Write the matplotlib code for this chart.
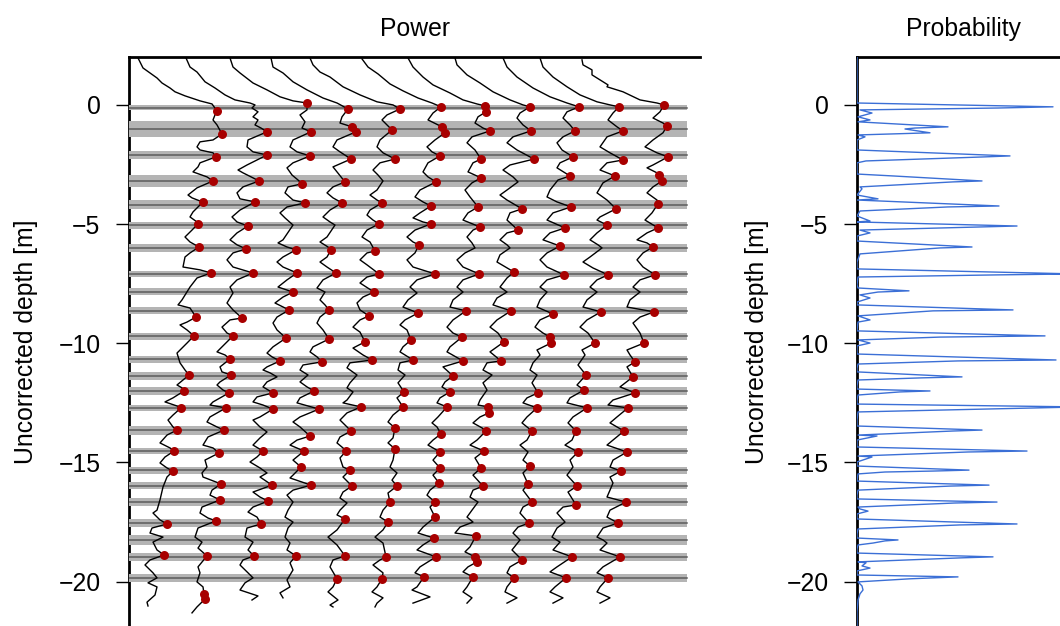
import matplotlib
matplotlib.use("Agg")
import matplotlib.pyplot as plt
import numpy as np

plt.rcParams['font.family'] = ['Liberation Sans', 'DejaVu Sans']

# layer picks (gray bands): centre depth [m] and half width [m]
band_depth = [-0.11, -1.01, -2.11, -3.19, -4.18, -5.05, -5.99, -7.10, -7.83, -8.63, -9.71, -10.67,
              -11.37, -12.00, -12.70, -13.65, -14.52, -15.33, -15.97, -16.65, -17.55, -18.25, -18.95, -19.83]
band_half = [0.12, 0.33, 0.17, 0.25, 0.19, 0.14, 0.17, 0.14, 0.14, 0.16, 0.15, 0.14,
             0.16, 0.15, 0.13, 0.19, 0.14, 0.16, 0.13, 0.16, 0.17, 0.22, 0.17, 0.17]

# power traces (offset), depth in m; picks = indices of red dots
t1_depth = [1.97, 1.55, 1.34, 1.13, 0.92, 0.71, 0.55, 0.38, 0.17, 0.04,
            -0.25, -0.42, -0.63, -0.84, -1.22, -1.47, -1.55, -1.76, -1.89, -2.01,
            -2.18, -2.43, -2.60, -2.81, -3.02, -3.19, -3.48, -3.78, -3.90, -4.03,
            -4.07, -4.49, -4.70, -4.91, -4.99, -5.25, -5.54, -5.75, -5.96, -6.21,
            -6.38, -6.80, -6.92, -7.05, -7.26, -7.64, -8.18, -8.39, -8.52, -8.90,
            -9.11, -9.23, -9.44, -9.69, -9.99, -10.41, -10.82, -11.12, -11.33, -11.54,
            -11.75, -11.87, -12.00, -12.29, -12.46, -12.63, -12.71, -13.01, -13.22, -13.51,
            -13.64, -13.85, -14.18, -14.39, -14.52, -14.77, -15.02, -15.23, -15.36, -15.61,
            -16.03, -16.57, -17.00, -17.12, -17.41, -17.58, -17.75, -17.96, -18.13, -18.34,
            -18.67, -18.88, -19.09, -19.30, -19.63, -19.84, -20.05, -20.22, -20.56, -20.86, -21.02]
t1_power = [9, 14, 21, 28, 33, 41, 46, 56, 71, 83,
            88, 86, 84, 88, 93, 84, 71, 68, 71, 84,
            87, 71, 69, 64, 78, 84, 68, 59, 63, 71,
            74, 64, 61, 68, 69, 63, 56, 61, 70, 61,
            56, 54, 71, 82, 68, 61, 53, 49, 61, 67,
            58, 51, 58, 65, 58, 48, 51, 56, 60, 54,
            48, 53, 55, 44, 36, 48, 52, 44, 39, 44,
            48, 38, 31, 41, 45, 36, 31, 38, 44, 38,
            34, 31, 28, 24, 31, 38, 23, 21, 34, 24,
            28, 35, 21, 16, 24, 28, 19, 28, 26, 18, 19]
t1_picks = [10, 14, 20, 25, 30, 34, 38, 43, 49, 53, 58, 62, 66, 70, 74, 78, 85, 91]

t2_depth = [1.97, 1.59, 1.38, 0.97, 0.71, 0.42, 0.21, 0.08, 0.00, -0.13,
            -0.29, -0.50, -0.63, -0.84, -0.97, -1.13, -1.47, -1.76, -1.97, -2.10,
            -2.52, -2.73, -2.85, -3.06, -3.19, -3.44, -3.69, -3.94, -4.07, -4.41,
            -4.70, -4.91, -5.08, -5.37, -5.66, -5.87, -6.04, -6.21, -6.50, -6.80,
            -7.05, -7.34, -7.64, -7.89, -8.31, -8.60, -8.94, -9.02, -9.32, -9.57,
            -9.69, -10.15, -10.36, -10.49, -10.66, -10.99, -11.20, -11.33, -11.62, -11.75,
            -11.96, -12.08, -12.46, -12.59, -12.71, -13.09, -13.30, -13.51, -13.64, -13.93,
            -14.27, -14.39, -14.60, -14.90, -15.19, -15.44, -15.61, -15.90, -16.16, -16.37,
            -16.57, -16.87, -17.12, -17.33, -17.45, -17.75, -18.13, -18.34, -18.59, -18.92,
            -19.38, -19.63, -20.01, -20.22, -20.51, -20.73, -21.06, -21.31]
t2_power = [57, 61, 68, 76, 86, 96, 106, 121, 126, 123,
            129, 124, 129, 126, 132, 138, 119, 118, 124, 138,
            118, 109, 114, 124, 130, 114, 108, 111, 126, 111,
            103, 108, 119, 108, 101, 108, 117, 104, 98, 104,
            124, 108, 101, 104, 98, 104, 113, 101, 93, 98,
            104, 93, 88, 96, 101, 91, 93, 102, 91, 88,
            94, 100, 84, 81, 97, 81, 78, 88, 95, 79,
            74, 84, 90, 76, 78, 73, 74, 92, 83, 81,
            91, 73, 71, 79, 87, 69, 66, 73, 69, 78,
            69, 71, 68, 74, 75, 76, 68, 63]
t2_picks = [15, 19, 24, 28, 32, 36, 40, 46, 50, 54, 57, 61, 64, 68, 72, 77, 80, 84, 89, 94, 95]

t3_depth = [1.97, 1.59, 1.34, 0.92, 0.63, 0.34, 0.17, 0.08, -0.21, -0.42,
            -0.71, -0.97, -1.13, -1.47, -1.76, -1.97, -2.14, -2.43, -2.64, -2.94,
            -3.15, -3.31, -3.44, -3.69, -3.99, -4.11, -4.28, -4.53, -4.74, -5.04,
            -5.66, -5.79, -5.96, -6.08, -6.38, -6.59, -6.80, -7.05, -7.34, -7.64,
            -7.85, -8.06, -8.31, -8.60, -8.90, -9.15, -9.44, -9.78, -10.15, -10.41,
            -10.57, -10.74, -10.99, -11.12, -11.24, -11.41, -11.62, -11.83, -12.08, -12.25,
            -12.46, -12.59, -12.76, -13.09, -13.22, -13.51, -13.72, -13.97, -14.27, -14.52,
            -14.77, -14.98, -15.23, -15.44, -15.61, -15.95, -16.24, -16.45, -16.62, -16.87,
            -17.08, -17.29, -17.58, -17.75, -18.13, -18.34, -18.67, -18.92, -19.09, -19.30,
            -19.63, -19.84, -20.05, -20.35, -20.60, -20.77]
t3_power = [101, 104, 111, 124, 138, 151, 164, 178, 178, 171,
            176, 173, 182, 164, 161, 168, 181, 164, 158, 163,
            169, 173, 159, 156, 164, 176, 158, 151, 156, 164,
            154, 149, 158, 167, 154, 148, 154, 168, 158, 149,
            164, 154, 146, 160, 148, 144, 148, 157, 144, 138,
            143, 151, 138, 134, 141, 148, 138, 134, 144, 128,
            124, 134, 144, 131, 124, 131, 138, 131, 124, 134,
            128, 121, 131, 138, 131, 143, 124, 131, 139, 124,
            119, 128, 132, 118, 116, 124, 119, 125, 114, 111,
            119, 124, 116, 111, 129, 123]
t3_picks = [7, 12, 16, 21, 25, 33, 37, 40, 43, 47, 51, 58, 62, 69, 75, 78, 82, 87]

t4_depth = [1.97, 1.59, 1.34, 0.97, 0.63, 0.29, 0.08, -0.17, -0.50, -0.76,
            -0.92, -1.13, -1.47, -1.76, -1.97, -2.27, -2.60, -2.81, -3.23, -3.44,
            -3.69, -3.90, -4.11, -4.41, -4.70, -4.91, -5.04, -5.54, -5.75, -5.96,
            -6.08, -6.38, -6.59, -6.80, -7.05, -7.34, -7.68, -7.85, -8.18, -8.39,
            -8.60, -8.90, -9.15, -9.44, -9.82, -10.15, -10.36, -10.57, -10.78, -10.91,
            -11.12, -11.33, -11.62, -11.83, -12.00, -12.29, -12.50, -12.76, -13.09, -13.30,
            -13.51, -13.89, -14.06, -14.27, -14.52, -14.90, -15.19, -15.53, -15.65, -15.95,
            -16.16, -16.37, -16.66, -17.00, -17.29, -17.50, -17.75, -18.13, -18.38, -18.67,
            -18.92, -19.21, -19.51, -19.93, -20.22, -20.47, -20.68]
t4_power = [142, 144, 154, 164, 178, 194, 208, 219, 213, 211,
            223, 227, 208, 204, 211, 222, 204, 208, 216, 204,
            198, 204, 213, 201, 194, 201, 206, 198, 191, 199,
            202, 198, 191, 198, 207, 194, 188, 196, 191, 196,
            200, 191, 188, 194, 200, 184, 181, 188, 193, 174,
            171, 179, 171, 178, 185, 171, 168, 190, 171, 164,
            171, 181, 168, 161, 175, 164, 172, 164, 161, 182,
            164, 158, 164, 159, 156, 164, 159, 156, 161, 158,
            167, 161, 164, 158, 161, 151, 154]
t4_picks = [7, 10, 11, 15, 18, 22, 30, 34, 40, 44, 48, 54, 57, 61, 64, 66, 69, 80]

t5_depth = [1.97, 1.68, 1.38, 1.17, 0.76, 0.42, 0.13, 0.00, -0.17, -0.42,
            -0.63, -1.05, -1.47, -1.76, -2.01, -2.27, -2.43, -2.73, -2.94, -3.19,
            -3.57, -3.78, -3.99, -4.11, -4.41, -4.62, -4.83, -4.99, -5.25, -5.54,
            -5.75, -6.13, -6.21, -6.50, -6.71, -7.09, -7.22, -7.47, -7.85, -8.06,
            -8.31, -8.60, -8.85, -9.02, -9.32, -9.53, -9.94, -10.20, -10.49, -10.70,
            -10.82, -11.03, -11.33, -11.66, -11.87, -12.04, -12.38, -12.50, -12.67, -12.92,
            -13.22, -13.51, -13.68, -13.93, -14.18, -14.39, -14.52, -14.81, -15.19, -15.32,
            -15.61, -15.99, -16.24, -16.49, -16.70, -17.00, -17.20, -17.37, -17.83, -18.13,
            -18.46, -18.92, -19.09, -19.38, -19.88, -20.22, -20.43, -20.77, -20.98, -21.06]
t5_power = [181, 184, 191, 201, 214, 231, 248, 264, 271, 258,
            253, 263, 251, 248, 254, 266, 251, 244, 249, 254,
            248, 241, 248, 253, 241, 238, 244, 250, 238, 233,
            241, 246, 238, 231, 238, 250, 238, 231, 245, 234,
            228, 231, 240, 231, 224, 231, 236, 224, 234, 243,
            221, 218, 228, 221, 218, 224, 218, 214, 232, 218,
            211, 218, 222, 211, 208, 214, 217, 211, 214, 221,
            214, 223, 214, 211, 218, 211, 208, 216, 208, 199,
            208, 216, 204, 201, 208, 204, 199, 209, 201, 204]
t5_picks = [8, 11, 15, 23, 27, 31, 35, 38, 42, 46, 49, 58, 62, 66, 69, 71, 77, 81, 84]

t6_depth = [1.93, 1.59, 1.30, 0.88, 0.59, 0.29, 0.08, -0.08, -0.34, -0.63,
            -0.92, -1.17, -1.47, -1.76, -1.97, -2.14, -2.43, -2.81, -3.02, -3.23,
            -3.57, -3.86, -4.07, -4.24, -4.53, -4.74, -4.91, -4.99, -5.25, -5.54,
            -5.75, -5.87, -6.21, -6.50, -6.80, -7.09, -7.34, -7.64, -7.89, -8.18,
            -8.48, -8.73, -9.02, -9.23, -9.44, -9.86, -10.15, -10.36, -10.70, -10.82,
            -11.12, -11.33, -11.66, -12.04, -12.29, -12.67, -13.01, -13.30, -13.55, -13.97,
            -14.18, -14.43, -14.90, -15.19, -15.44, -15.74, -15.99, -16.28, -16.66, -17.00,
            -17.29, -17.50, -17.83, -18.13, -18.38, -18.96, -19.09, -19.30, -19.63, -19.88,
            -20.22, -20.43, -20.68, -20.90, -21.06]
t6_power = [233, 239, 249, 261, 274, 289, 303, 312, 304, 299,
            313, 316, 306, 298, 303, 311, 299, 294, 299, 307,
            291, 286, 294, 302, 291, 284, 294, 302, 286, 278,
            284, 290, 286, 278, 284, 306, 288, 281, 288, 279,
            274, 289, 276, 271, 278, 282, 274, 271, 284, 271,
            269, 276, 269, 275, 268, 274, 264, 259, 266, 264,
            259, 266, 264, 261, 268, 263, 268, 259, 261, 254,
            251, 259, 254, 246, 254, 257, 251, 244, 254, 253,
            248, 243, 254, 248, 246]
t6_picks = [7, 10, 11, 15, 19, 23, 27, 31, 35, 41, 45, 48, 53, 55, 58, 61, 66, 68, 71, 75, 79]

t7_depth = [1.97, 1.59, 1.17, 0.84, 0.50, 0.21, 0.04, -0.04, -0.29, -0.50,
            -0.76, -0.97, -1.09, -1.34, -1.59, -1.89, -2.27, -2.43, -2.81, -3.06,
            -3.27, -3.57, -3.86, -4.28, -4.53, -4.83, -5.12, -5.25, -5.54, -5.79,
            -6.00, -6.21, -6.50, -6.80, -7.09, -7.34, -7.64, -7.85, -8.18, -8.48,
            -8.64, -9.02, -9.32, -9.57, -9.74, -10.15, -10.36, -10.74, -10.99, -11.37,
            -11.62, -11.83, -12.04, -12.29, -12.50, -12.67, -13.09, -13.34, -13.51, -13.80,
            -14.06, -14.27, -14.56, -14.90, -15.23, -15.53, -15.86, -16.16, -16.37, -16.66,
            -16.87, -17.29, -17.71, -17.96, -18.17, -18.46, -18.67, -18.96, -19.38, -19.63,
            -19.80, -20.22, -20.35, -20.64, -20.90]
t7_power = [279, 284, 294, 304, 321, 334, 348, 356, 357, 349,
            346, 354, 361, 343, 338, 346, 352, 344, 339, 352,
            343, 336, 341, 349, 339, 334, 351, 344, 338, 343,
            346, 336, 328, 334, 350, 334, 328, 334, 324, 321,
            337, 324, 318, 324, 333, 321, 318, 334, 314, 324,
            316, 313, 321, 311, 308, 318, 309, 303, 308, 312,
            304, 299, 311, 304, 311, 304, 310, 301, 298, 306,
            301, 306, 294, 289, 305, 294, 288, 307, 291, 286,
            295, 288, 283, 301, 284]
t7_picks = [7, 8, 12, 16, 19, 23, 26, 34, 40, 44, 47, 49, 52, 55, 59, 62, 64, 66, 69, 71, 74, 77, 80]

t8_depth = [1.97, 1.68, 1.26, 0.92, 0.55, 0.21, 0.00, -0.08, -0.34, -0.55,
            -0.84, -1.09, -1.34, -1.59, -1.89, -2.27, -2.52, -2.73, -3.02, -3.23,
            -3.57, -3.78, -3.99, -4.36, -4.53, -4.83, -5.25, -5.37, -5.66, -5.87,
            -6.00, -6.29, -6.59, -7.01, -7.26, -7.64, -7.85, -8.10, -8.39, -8.64,
            -9.02, -9.32, -9.57, -9.94, -10.36, -10.74, -10.82, -11.12, -11.33, -11.66,
            -11.96, -12.38, -12.59, -12.67, -12.92, -13.09, -13.34, -13.55, -13.68, -14.06,
            -14.27, -14.52, -14.81, -15.23, -15.53, -15.99, -16.16, -16.45, -16.66, -17.00,
            -17.29, -17.50, -17.71, -17.96, -18.08, -18.54, -18.75, -18.96, -19.17, -19.38,
            -19.59, -19.80, -20.22, -20.43, -20.68, -20.90]
t8_power = [326, 328, 338, 351, 364, 381, 394, 401, 391, 388,
            394, 402, 384, 378, 388, 405, 381, 374, 384, 389,
            378, 371, 378, 393, 381, 378, 389, 378, 371, 378,
            381, 371, 368, 385, 378, 371, 378, 368, 364, 382,
            368, 361, 369, 375, 361, 372, 358, 354, 363, 354,
            358, 351, 349, 359, 360, 351, 344, 353, 357, 348,
            341, 355, 346, 352, 344, 354, 344, 341, 349, 343,
            338, 344, 331, 326, 347, 341, 336, 346, 348, 339,
            334, 344, 338, 334, 343, 338]
t8_picks = [7, 11, 15, 23, 26, 33, 39, 43, 45, 53, 54, 58, 61, 63, 65, 74, 77, 78, 81]

t9_depth = [1.97, 1.59, 1.17, 0.71, 0.34, 0.08, -0.08, -0.29, -0.55, -0.84,
            -1.09, -1.34, -1.59, -1.89, -2.18, -2.43, -2.64, -2.98, -3.15, -3.57,
            -3.86, -4.07, -4.28, -4.53, -4.83, -5.16, -5.37, -5.66, -5.92, -6.21,
            -6.50, -6.80, -7.13, -7.34, -7.64, -7.85, -8.18, -8.48, -8.77, -9.02,
            -9.32, -9.57, -9.74, -9.99, -10.28, -10.49, -10.82, -11.12, -11.33, -11.66,
            -12.08, -12.29, -12.50, -12.71, -13.09, -13.34, -13.68, -14.06, -14.27, -14.56,
            -14.90, -15.15, -15.44, -15.90, -16.16, -16.66, -16.87, -17.12, -17.54, -17.71,
            -17.96, -18.25, -18.67, -19.09, -19.38, -19.63, -19.84, -20.22, -20.43, -20.68,
            -20.90]
t9_power = [374, 378, 388, 404, 421, 438, 450, 438, 434, 441,
            446, 434, 428, 433, 444, 431, 428, 441, 429, 421,
            418, 428, 442, 424, 418, 436, 421, 414, 431, 418,
            411, 418, 435, 418, 411, 418, 411, 408, 424, 411,
            406, 414, 421, 422, 408, 411, 404, 401, 408, 403,
            409, 398, 394, 408, 398, 393, 403, 398, 391, 399,
            394, 401, 394, 399, 394, 403, 394, 391, 400, 389,
            384, 391, 383, 393, 381, 378, 385, 378, 376, 388,
            378]
t9_picks = [6, 10, 14, 17, 22, 25, 28, 32, 38, 42, 43, 50, 53, 56, 61, 63, 65, 68, 73, 76]

t10_depth = [1.97, 1.59, 1.17, 0.76, 0.42, 0.13, 0.00, -0.08, -0.34, -0.63,
             -0.92, -1.09, -1.34, -1.76, -2.01, -2.31, -2.43, -2.73, -2.98, -3.27,
             -3.69, -3.99, -4.36, -4.70, -4.83, -5.04, -5.37, -5.66, -5.87, -6.00,
             -6.38, -6.59, -6.84, -7.13, -7.34, -7.64, -7.85, -8.18, -8.48, -8.68,
             -9.02, -9.32, -9.57, -9.99, -10.28, -10.49, -10.91, -11.33, -11.75, -11.96,
             -12.29, -12.50, -12.71, -13.09, -13.34, -13.68, -14.06, -14.27, -14.56, -14.90,
             -15.19, -15.53, -15.99, -16.24, -16.78, -16.87, -17.12, -17.50, -17.75, -18.13,
             -18.34, -18.67, -18.96, -19.38, -19.59, -19.84, -20.22, -20.43, -20.68, -20.90]
t10_power = [411, 414, 424, 438, 451, 468, 481, 490, 484, 479,
             488, 494, 478, 471, 481, 494, 478, 471, 486, 474,
             468, 478, 487, 471, 468, 478, 468, 461, 469, 473,
             461, 454, 464, 479, 468, 461, 468, 458, 454, 472,
             458, 451, 459, 466, 453, 456, 449, 457, 448, 455,
             441, 438, 458, 444, 439, 447, 443, 436, 449, 441,
             444, 438, 448, 439, 447, 434, 428, 436, 428, 423,
             431, 424, 443, 428, 421, 437, 426, 421, 434, 424]
t10_picks = [7, 11, 15, 18, 22, 25, 33, 39, 43, 47, 49, 52, 55, 58, 62, 64, 72, 75]

t11_depth = [1.89, 1.68, 1.47, 1.26, 1.05, 0.84, 0.76, 0.55, 0.21, 0.08,
             0.00, -0.29, -0.55, -0.76, -0.88, -1.17, -1.47, -1.76, -2.01, -2.18,
             -2.52, -2.64, -2.85, -2.94, -3.19, -3.44, -3.69, -3.99, -4.15, -4.53,
             -4.83, -5.16, -5.37, -5.66, -5.79, -5.96, -6.21, -6.50, -6.80, -7.13,
             -7.34, -7.64, -7.85, -8.18, -8.48, -8.68, -8.90, -9.15, -9.57, -9.99,
             -10.28, -10.49, -10.78, -10.99, -11.41, -11.83, -12.08, -12.38, -12.59, -12.71,
             -13.09, -13.34, -13.68, -14.06, -14.27, -14.56, -14.90, -15.19, -15.36, -15.61,
             -15.86, -16.16, -16.45, -16.66, -17.00, -17.29, -17.54, -17.75, -18.13, -18.25,
             -18.38, -18.67, -18.96, -19.38, -19.63, -19.84, -20.22, -20.43, -20.68, -20.90]
t11_power = [453, 454, 463, 463, 471, 479, 478, 494, 511, 528,
             535, 531, 524, 534, 538, 534, 524, 516, 528, 539,
             524, 518, 528, 530, 533, 524, 518, 528, 529, 523,
             516, 529, 518, 508, 518, 524, 514, 508, 514, 526,
             511, 504, 511, 501, 498, 525, 511, 504, 511, 515,
             498, 501, 506, 498, 504, 491, 506, 484, 479, 499,
             488, 481, 495, 484, 478, 498, 484, 481, 492, 481,
             484, 481, 478, 497, 481, 478, 489, 474, 468, 474,
             478, 471, 491, 474, 468, 479, 471, 468, 481, 471]
t11_picks = [10, 14, 19, 23, 24, 28, 31, 35, 39, 45, 49, 52, 54, 56, 59, 62, 65, 68, 73, 76, 82, 85]

# probability of a layer vs depth
prob_depth = [2.01, 0.08, -0.08, -0.13, -0.21, -0.34, -0.50, -0.63, -0.71, -0.92,
              -0.97, -1.01, -1.17, -1.26, -1.34, -1.47, -1.89, -2.14, -2.18, -2.35,
              -2.43, -2.90, -2.98, -3.19, -3.23, -3.44, -3.52, -3.78, -3.94, -3.99,
              -4.24, -4.28, -4.45, -4.66, -4.87, -4.91, -5.08, -5.12, -5.25, -5.37,
              -5.50, -5.71, -5.96, -6.00, -6.25, -6.59, -6.88, -7.09, -7.13, -7.22,
              -7.55, -7.68, -7.80, -7.85, -7.97, -8.10, -8.27, -8.39, -8.60, -8.64,
              -8.85, -9.02, -9.11, -9.48, -9.69, -9.74, -9.86, -9.99, -10.11, -10.45,
              -10.70, -10.74, -10.87, -11.04, -11.20, -11.41, -11.45, -11.54, -11.79, -11.92,
              -12.00, -12.04, -12.17, -12.42, -12.55, -12.67, -12.76, -12.88, -13.22, -13.47,
              -13.64, -13.68, -13.85, -13.89, -14.06, -14.35, -14.52, -14.56, -14.73, -14.77,
              -14.98, -15.15, -15.32, -15.36, -15.40, -15.48, -15.78, -15.95, -15.99, -16.16,
              -16.37, -16.53, -16.66, -16.70, -16.87, -16.95, -17.04, -17.16, -17.37, -17.58,
              -17.62, -17.79, -18.00, -18.17, -18.25, -18.29, -18.38, -18.46, -18.63, -18.80,
              -18.96, -19.00, -19.17, -19.21, -19.34, -19.43, -19.55, -19.72, -19.80, -19.88,
              -20.01, -20.18, -20.35, -20.51, -20.77, -21.27, -21.86]
prob_value = [0, 0, 0.196, 0.141, 0.003, 0.015, 0.001, 0.013, 0.001, 0.091,
              0.058, 0.048, 0.073, 0.001, 0.008, 0, 0, 0.153, 0.128, 0.009,
              0, 0, 0.036, 0.125, 0.096, 0.003, 0.005, 0, 0.021, 0,
              0.142, 0.091, 0.003, 0, 0.013, 0, 0.160, 0.123, 0.003, 0.013,
              0, 0, 0.115, 0.083, 0.003, 0, 0, 0.218, 0.141, 0.001,
              0, 0.001, 0.052, 0.021, 0.003, 0.013, 0, 0, 0.156, 0.076,
              0.001, 0.013, 0.001, 0, 0.188, 0.083, 0.001, 0.013, 0, 0,
              0.199, 0.101, 0.001, 0, 0, 0.105, 0.065, 0.001, 0, 0,
              0.073, 0.043, 0.001, 0, 0, 0.223, 0.128, 0.001, 0, 0,
              0.125, 0.096, 0.001, 0.020, 0, 0, 0.170, 0.111, 0.001, 0.015,
              0, 0, 0.112, 0.076, 0.028, 0.001, 0, 0.132, 0.093, 0.001,
              0, 0, 0.140, 0.098, 0.001, 0.003, 0.011, 0, 0, 0.160,
              0.103, 0.001, 0, 0, 0.041, 0.028, 0.016, 0.001, 0, 0,
              0.136, 0.105, 0.001, 0.009, 0.005, 0.013, 0, 0, 0.101, 0.053,
              0.001, 0.005, 0.006, 0.003, 0.001, 0, 0]

traces = [(t1_depth, t1_power, t1_picks), (t2_depth, t2_power, t2_picks), (t3_depth, t3_power, t3_picks),
          (t4_depth, t4_power, t4_picks), (t5_depth, t5_power, t5_picks), (t6_depth, t6_power, t6_picks),
          (t7_depth, t7_power, t7_picks), (t8_depth, t8_power, t8_picks), (t9_depth, t9_power, t9_picks),
          (t10_depth, t10_power, t10_picks), (t11_depth, t11_power, t11_picks)]

FS = 17.8
W, H = 1060, 626
fig = plt.figure(figsize=(W / 100, H / 100), dpi=100)
ax1 = fig.add_axes([129 / W, 0, 571 / W, 569 / H])
ax2 = fig.add_axes([857 / W, 0, 214 / W, 569 / H])

ylim = (-21.86, 2.01)
band_end = 558  # bands stop short of the axis end

for ax in (ax1, ax2):
    ax.set_ylim(*ylim)
    ax.spines['right'].set_visible(False)
    ax.spines['bottom'].set_visible(False)
    ax.spines['left'].set_linewidth(2.0)
    ax.spines['top'].set_linewidth(2.0)
    ax.set_xticks([])
    ax.set_yticks([0, -5, -10, -15, -20])
    ax.tick_params(axis='y', length=9.5, width=1.0, pad=11, labelsize=FS)
    ax.set_ylabel('Uncorrected depth [m]', fontsize=FS)

ax1.set_xlim(0, 571)
ax1.yaxis.set_label_coords(-0.159, 0.5)
ax1.set_title('Power', fontsize=FS, pad=15)

for d, h in zip(band_depth, band_half):
    ax1.fill_between([0, band_end], d - h, d + h, color='#b4b4b4', lw=0, zorder=2.6)
    ax1.plot([0, band_end], [d, d], color='#5c5c5c', lw=1.1, zorder=2.7)

for dep, pw, picks in traces:
    dep = np.array(dep)
    pw = np.array(pw)
    ax1.plot(pw, dep, color='black', lw=1.0, zorder=3)
    ax1.scatter(pw[picks], dep[picks], s=42, color='#a80000', lw=0, zorder=4)

ax2.set_xlim(0, 0.214)
ax2.yaxis.set_label_coords(-0.411, 0.5)
ax2.set_title('Probability', fontsize=FS, pad=15)
ax2.plot(prob_value, prob_depth, color='#3b6fd6', lw=1.0, zorder=3)

fig.savefig('out.png', dpi=100)
